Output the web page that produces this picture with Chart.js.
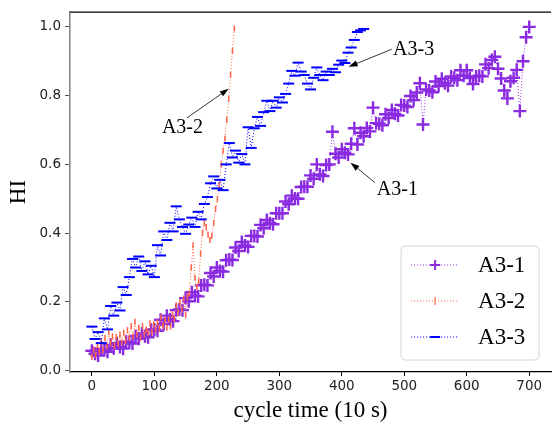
<!DOCTYPE html>
<html>
<head>
<meta charset="utf-8">
<script src="https://cdn.jsdelivr.net/npm/chart.js@4.4.0/dist/chart.umd.min.js"></script>
<style>
html, body { margin:0; padding:0; background:#fff; overflow:hidden; }
#wrap { width:560px; height:425px; }
</style>
</head>
<body>
<div id="wrap"><canvas id="graficaHI" width="560" height="425"></canvas></div>
<script>
// separacion entre muestras (ciclos de 10 s)
var paso31 = 5, paso32 = 3, paso33 = 5;

// A3-1, una muestra cada 5 ciclos, de 0 a 700
var hiA31 = [0.058,0.049,0.044,0.063,0.060,0.055,0.075,0.065,0.080,0.069,
	0.064,0.084,0.082,0.079,0.101,0.093,0.108,0.100,0.097,0.119,
	0.120,0.116,0.148,0.136,0.160,0.149,0.144,0.176,0.178,0.176,
	0.211,0.202,0.228,0.218,0.216,0.248,0.250,0.248,0.284,0.274,
	0.300,0.290,0.288,0.321,0.323,0.322,0.358,0.348,0.374,0.364,
	0.360,0.392,0.392,0.390,0.424,0.414,0.438,0.429,0.426,0.458,
	0.458,0.458,0.492,0.484,0.509,0.501,0.500,0.534,0.535,0.535,
	0.568,0.558,0.600,0.571,0.566,0.598,0.600,0.695,0.631,0.620,
	0.644,0.634,0.629,0.660,0.705,0.658,0.692,0.682,0.706,0.696,
	0.765,0.720,0.718,0.714,0.746,0.735,0.758,0.747,0.742,0.773,
	0.771,0.767,0.799,0.787,0.809,0.836,0.716,0.818,0.815,0.810,
	0.841,0.828,0.849,0.836,0.829,0.856,0.852,0.845,0.874,0.858,
	0.874,0.851,0.834,0.856,0.858,0.856,0.891,0.880,0.904,0.913,
	0.878,0.850,0.815,0.792,0.842,0.852,0.875,0.755,0.900,0.970,
	1.000];

// A3-2, una muestra cada 3 ciclos, de 0 a 228
var hiA32 = [0.040,0.062,0.045,0.075,0.055,0.085,0.060,0.095,0.070,0.112,
	0.080,0.100,0.072,0.098,0.078,0.105,0.082,0.110,0.085,0.118,
	0.095,0.130,0.100,0.142,0.105,0.125,0.095,0.130,0.105,0.120,
	0.110,0.138,0.112,0.135,0.118,0.140,0.122,0.156,0.130,0.148,
	0.125,0.150,0.128,0.165,0.150,0.190,0.168,0.200,0.178,0.210,
	0.161,0.215,0.225,0.300,0.365,0.270,0.243,0.260,0.340,0.400,
	0.430,0.418,0.395,0.380,0.392,0.430,0.470,0.500,0.540,0.600,
	0.640,0.675,0.730,0.790,0.860,0.930,0.995];

// A3-3, una muestra cada 5 ciclos, de 0 a 435
var hiA33 = [0.128,0.092,0.112,0.080,0.152,0.120,0.188,0.160,0.198,0.175,
	0.243,0.220,0.272,0.325,0.300,0.332,0.290,0.318,0.280,0.305,
	0.272,0.365,0.335,0.405,0.380,0.430,0.405,0.478,0.440,0.418,
	0.398,0.425,0.445,0.418,0.462,0.440,0.485,0.505,0.545,0.565,
	0.530,0.555,0.525,0.600,0.662,0.620,0.640,0.605,0.630,0.600,
	0.708,0.648,0.705,0.738,0.712,0.752,0.785,0.755,0.785,0.765,
	0.795,0.780,0.805,0.835,0.872,0.858,0.896,0.870,0.860,0.835,
	0.818,0.852,0.882,0.860,0.845,0.870,0.860,0.878,0.868,0.890,
	0.902,0.895,0.925,0.940,0.962,0.985,0.990,0.994];

var etiquetas = ['A3-1', 'A3-2', 'A3-3'];
var colores = ['#8a2be2', '#ff6347', '#0000ff'];
var xTicks = [0, 100, 200, 300, 400, 500, 600, 700];
var yTicks = [0.0, 0.2, 0.4, 0.6, 0.8, 1.0];

// notas con flecha (coordenadas de datos)
var notas = [
	{texto:'A3-2', tx:145, ty:0.706, x0:152, y0:0.735, x1:219, y1:0.820},
	{texto:'A3-3', tx:515, ty:0.933, x0:480, y0:0.935, x1:411, y1:0.884},
	{texto:'A3-1', tx:489, ty:0.526, x0:453, y0:0.547, x1:414, y1:0.605}
];

var serif = '"Liberation Serif", "Times New Roman", serif';

function puntos(valores, paso){
	return valores.map(function(v, i){ return {x: i * paso, y: v}; });
}

function marcador(ctx, tipo, color, x, y){
	ctx.save();
	ctx.strokeStyle = color;
	ctx.setLineDash([]);
	ctx.beginPath();
	if (tipo === 0) {
		ctx.lineWidth = 2;
		ctx.moveTo(x - 5, y); ctx.lineTo(x + 5, y);
		ctx.moveTo(x, y - 5); ctx.lineTo(x, y + 5);
	} else if (tipo === 1) {
		ctx.lineWidth = 1.2;
		ctx.moveTo(x, y - 4); ctx.lineTo(x, y + 4);
	} else {
		ctx.lineWidth = 2;
		ctx.moveTo(x - 5, y); ctx.lineTo(x + 5, y);
	}
	ctx.stroke();
	ctx.restore();
}

var extras = {
	id: 'extras',
	afterDraw: function(chart){
		var ctx = chart.ctx;
		var area = chart.chartArea;
		var sx = chart.scales.x, sy = chart.scales.y;

		// borde superior
		ctx.save();
		ctx.strokeStyle = '#000';
		ctx.lineWidth = 1.2;
		ctx.beginPath();
		ctx.moveTo(area.left, area.top);
		ctx.lineTo(area.right, area.top);
		ctx.stroke();

		// notas
		ctx.font = '20px ' + serif;
		ctx.fillStyle = '#000';
		ctx.textAlign = 'center';
		ctx.textBaseline = 'middle';
		notas.forEach(function(n){
			ctx.fillText(n.texto, sx.getPixelForValue(n.tx), sy.getPixelForValue(n.ty));
			var ax = sx.getPixelForValue(n.x0), ay = sy.getPixelForValue(n.y0);
			var bx = sx.getPixelForValue(n.x1), by = sy.getPixelForValue(n.y1);
			var ang = Math.atan2(by - ay, bx - ax);
			var hl = 9, hw = 3;
			var cx = bx - hl * Math.cos(ang), cy = by - hl * Math.sin(ang);
			ctx.strokeStyle = '#000';
			ctx.lineWidth = 0.8;
			ctx.beginPath();
			ctx.moveTo(ax, ay);
			ctx.lineTo(cx, cy);
			ctx.stroke();
			ctx.beginPath();
			ctx.moveTo(bx, by);
			ctx.lineTo(cx - hw * Math.sin(ang), cy + hw * Math.cos(ang));
			ctx.lineTo(cx + hw * Math.sin(ang), cy - hw * Math.cos(ang));
			ctx.closePath();
			ctx.fill();
		});

		// leyenda
		var bx0 = area.right - 150, by0 = area.bottom - 126, bw = 138, bh = 114;
		ctx.beginPath();
		ctx.roundRect(bx0, by0, bw, bh, 4);
		ctx.fillStyle = 'rgba(255,255,255,0.85)';
		ctx.fill();
		ctx.strokeStyle = '#d6d6d6';
		ctx.lineWidth = 1;
		ctx.stroke();
		ctx.font = '23px ' + serif;
		ctx.textAlign = 'left';
		ctx.textBaseline = 'middle';
		for (var i = 0; i < etiquetas.length; i++) {
			var yy = by0 + 19 + i * 36;
			ctx.strokeStyle = colores[i];
			ctx.lineWidth = 1;
			ctx.setLineDash([1, 2]);
			ctx.beginPath();
			ctx.moveTo(bx0 + 10, yy);
			ctx.lineTo(bx0 + 58, yy);
			ctx.stroke();
			ctx.setLineDash([]);
			marcador(ctx, i, colores[i], bx0 + 34, yy);
			ctx.fillStyle = '#000';
			ctx.fillText(etiquetas[i], bx0 + 77, yy + 1);
		}
		ctx.restore();
	}
};

var graficaHI = new Chart(document.getElementById('graficaHI'), {
	type: 'line',
	data: {
		datasets: [
			{label: etiquetas[0], data: puntos(hiA31, paso31), order: 3,
			 borderColor: colores[0], backgroundColor: colores[0], borderWidth: 1, borderDash: [1, 2],
			 pointStyle: 'cross', pointRadius: 6.5, pointBorderWidth: 2.4},
			{label: etiquetas[1], data: puntos(hiA32, paso32), order: 2,
			 borderColor: colores[1], backgroundColor: colores[1], borderWidth: 1, borderDash: [1, 2],
			 pointStyle: 'line', pointRotation: 90, pointRadius: 3, pointBorderWidth: 1.5},
			{label: etiquetas[2], data: puntos(hiA33, paso33), order: 1,
			 borderColor: colores[2], backgroundColor: colores[2], borderWidth: 1, borderDash: [1, 2],
			 pointStyle: 'line', pointRadius: 5.5, pointBorderWidth: 2}
		]
	},
	options: {
		responsive: false,
		animation: false,
		layout: {padding: {top: 10, right: 4, left: 0, bottom: 0}},
		plugins: {legend: {display: false}, tooltip: {enabled: false}},
		scales: {
			x: {
				type: 'linear', min: -35, max: 735,
				afterBuildTicks: function(s){ s.ticks = xTicks.map(function(v){ return {value: v}; }); },
				afterFit: function(s){ s.height = 53; },
				ticks: {font: {family: 'DejaVu Sans', size: 13.5}, color: '#222', padding: 2, maxRotation: 0},
				grid: {drawOnChartArea: false, tickLength: 4, color: '#000'},
				border: {color: '#000', width: 1.2},
				title: {display: true, text: 'cycle time (10 s)', color: '#000', font: {family: serif, size: 23}, padding: 0}
			},
			y: {
				type: 'linear', min: -0.004, max: 1.043,
				afterBuildTicks: function(s){ s.ticks = yTicks.map(function(v){ return {value: v}; }); },
				afterFit: function(s){ s.width = 70; },
				ticks: {font: {family: 'DejaVu Sans', size: 13.5}, color: '#222', padding: 4,
					callback: function(v){ return v.toFixed(1); }},
				grid: {drawOnChartArea: false, tickLength: 5, color: '#555'},
				border: {color: '#808080', width: 1.5},
				title: {display: true, text: 'HI', color: '#000', font: {family: serif, size: 23}, padding: {top: 5, bottom: 0}}
			}
		}
	},
	plugins: [extras]
});
</script>
</body>
</html>
